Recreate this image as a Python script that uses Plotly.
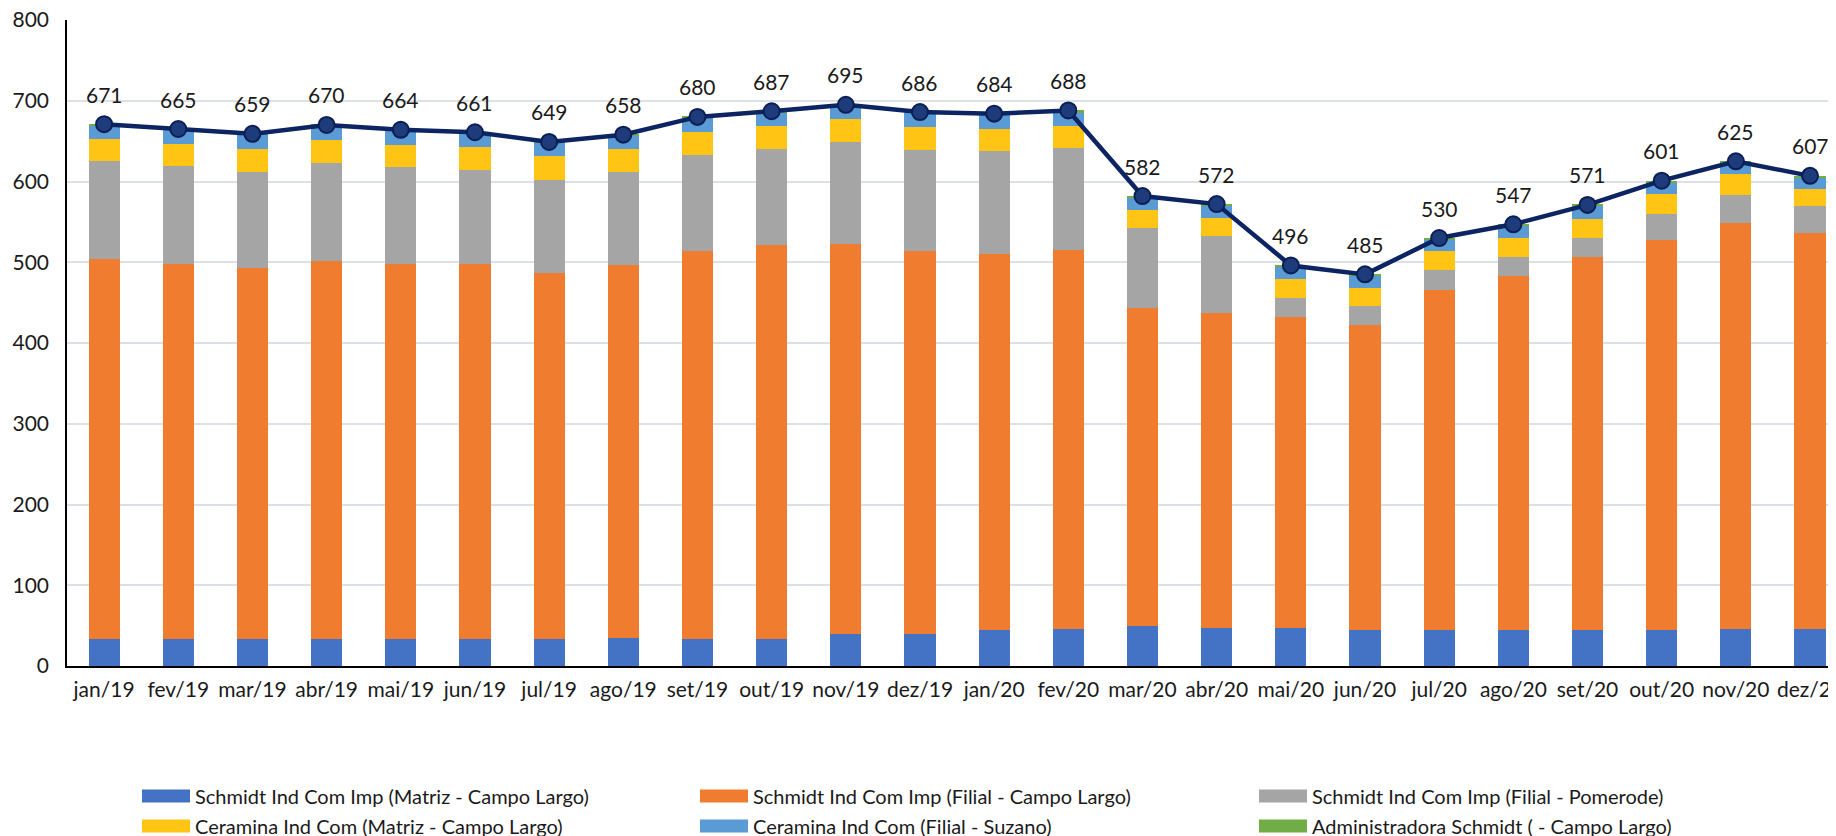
import plotly.graph_objects as go

# headcount per company, stacked by month
months = ["jan/19", "fev/19", "mar/19", "abr/19", "mai/19", "jun/19", "jul/19", "ago/19",
          "set/19", "out/19", "nov/19", "dez/19", "jan/20", "fev/20", "mar/20", "abr/20",
          "mai/20", "jun/20", "jul/20", "ago/20", "set/20", "out/20", "nov/20", "dez/20"]

matriz_cl = [33, 33, 33, 33, 33, 33, 33, 35, 34, 34, 40, 40, 44, 46, 49, 47,
             47, 44, 44, 44, 44, 44, 46, 46]
filial_cl = [471, 465, 460, 469, 465, 465, 454, 462, 480, 487, 483, 474, 466, 469, 394, 390,
             385, 378, 422, 439, 463, 484, 503, 490]
filial_pomerode = [121, 121, 119, 121, 120, 116, 115, 115, 119, 119, 126, 125, 128, 126, 99, 95,
                   24, 24, 24, 24, 23, 32, 34, 34]
ceramina_matriz = [28, 28, 28, 28, 27, 29, 29, 28, 28, 29, 28, 29, 27, 28, 23, 23,
                   23, 22, 24, 23, 24, 24, 26, 21]
ceramina_suzano = [16, 17, 18, 18, 18, 17, 17, 17, 18, 17, 17, 17, 18, 17, 15, 15,
                   16, 16, 14, 15, 16, 15, 15, 14]
administradora = [2, 1, 1, 1, 1, 1, 1, 1, 1, 1, 1, 1, 1, 2, 2, 2,
                  1, 1, 2, 2, 1, 2, 1, 2]
totals = [671, 665, 659, 670, 664, 661, 649, 658, 680, 687, 695, 686, 684, 688, 582, 572,
          496, 485, 530, 547, 571, 601, 625, 607]

series = [
    ("Schmidt Ind Com Imp (Matriz - Campo Largo)", matriz_cl, "#4472C4"),
    ("Schmidt Ind Com Imp (Filial - Campo Largo)", filial_cl, "#F07C30"),
    ("Schmidt Ind Com Imp (Filial - Pomerode)", filial_pomerode, "#A5A5A5"),
    ("Ceramina Ind Com (Matriz - Campo Largo)", ceramina_matriz, "#FFC414"),
    ("Ceramina Ind Com (Filial - Suzano)", ceramina_suzano, "#5B9BD5"),
    ("Administradora Schmidt ( - Campo Largo)", administradora, "#70AD47"),
]

FONT = "Lato"
W, H = 1836, 836
# page body has an 8px margin, so everything is placed 8px up/left of the target
ML, MT, MR, MB = 59, 12, 8, 178
PW, PH = W - ML - MR, H - MT - MB


def px(x):
    return (x - 8 - ML) / PW


def py(y):
    return (H - MB - (y - 8)) / PH


fig = go.Figure()
for name, vals, col in series:
    fig.add_trace(go.Bar(x=months, y=vals, name=name, showlegend=False,
                         marker=dict(color=col, line=dict(width=0))))

fig.add_trace(go.Scatter(
    x=months, y=totals, mode="lines+markers", showlegend=False,
    line=dict(color="#0C2461", width=4.5),
    marker=dict(size=16, color="#1E3C7C", line=dict(color="#0B1F55", width=2)),
))

# total labels above the points
for m, t in zip(months, totals):
    fig.add_annotation(x=m, y=t, text=str(t), showarrow=False, yshift=30,
                       font=dict(family=FONT, size=21, color="#1a1a1a"))

# legend: 3 columns x 2 rows, wide swatches like the original
col_x = [142, 700, 1259]
row_y = [796, 826]
shapes = []
for i, (name, vals, col) in enumerate(series):
    cx = col_x[i % 3]
    cy = row_y[i // 3]
    shapes.append(dict(type="rect", xref="paper", yref="paper",
                       x0=px(cx), x1=px(cx + 48), y0=py(cy + 6.5), y1=py(cy - 6.5),
                       fillcolor=col, line=dict(width=0)))
    fig.add_annotation(xref="paper", yref="paper", x=px(cx + 51), y=py(cy),
                       xanchor="left", yanchor="middle", text=name, showarrow=False,
                       font=dict(family=FONT, size=20, color="#1a1a1a"))

fig.update_layout(
    width=W, height=H,
    barmode="stack", bargap=0.58,
    plot_bgcolor="white", paper_bgcolor="white",
    margin=dict(l=ML, r=MR, t=MT, b=MB, autoexpand=False),
    font=dict(family=FONT, size=21, color="#1a1a1a"),
    showlegend=False,
    shapes=shapes,
    xaxis=dict(range=[-0.5, 23.35], showline=True, linecolor="black", linewidth=1.5,
               ticks="outside", ticklen=4, tickcolor="rgba(0,0,0,0)", automargin=False,
               tickfont=dict(size=21), ticklabeloverflow="allow"),
    yaxis=dict(range=[0, 800], dtick=100, showline=True, linecolor="black", linewidth=1.5,
               gridcolor="#DDE1E6", gridwidth=1.5, automargin=False,
               ticks="outside", ticklen=12, tickcolor="rgba(0,0,0,0)",
               tickfont=dict(size=21), ticklabeloverflow="allow"),
)

fig.write_html("out.html")
